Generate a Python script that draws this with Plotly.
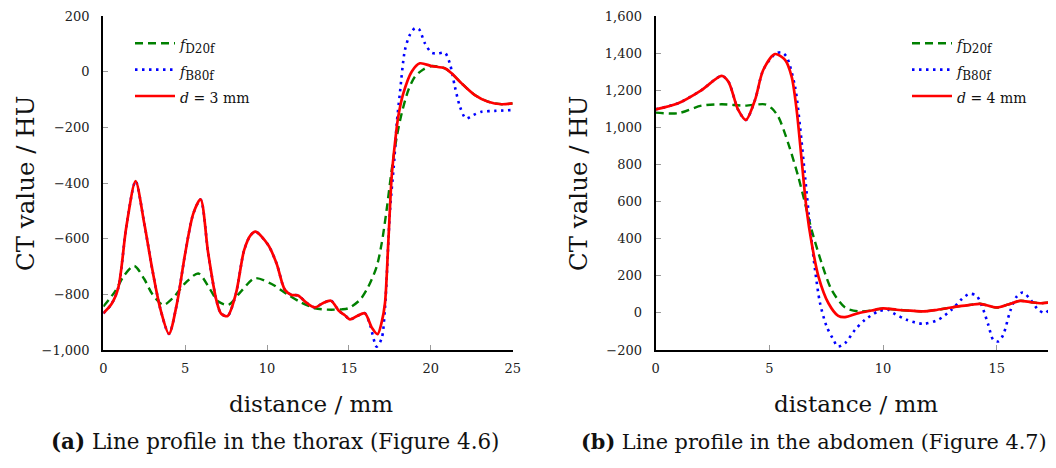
import plotly.graph_objects as go

# ---------------- data: (a) thorax ----------------
thorax_d20f_x = [0, 0.71, 1.3, 1.89, 2.5, 3.0, 3.66, 4.3, 5.0, 5.8, 6.5, 7.0, 7.63, 8.4, 9.26,
                 10.28, 11.29, 12.1, 12.92, 13.7, 14.55, 14.97, 15.67, 16.18, 16.69, 17.0, 17.3,
                 17.61, 17.92, 18.22, 18.63, 19.03, 19.54, 20.05, 20.86, 21.27, 21.88, 22.69,
                 23.5, 24.33, 25]
thorax_d20f_y = [-844, -790, -730, -698, -745, -800, -838, -810, -760, -725, -780, -825, -838, -790,
                 -742, -763, -802, -830, -850, -855, -854, -850, -820, -773, -701, -617, -497,
                 -353, -234, -150, -66, -18, 8, 20, 12, -6, -42, -84, -108, -117, -114]

thorax_b80f_x = [0, 0.5, 0.92, 1.4, 1.97, 2.5, 3.0, 3.5, 4.01, 4.5, 5.0, 5.5, 5.94, 6.4, 6.9, 7.2,
                 7.59, 8.1, 8.6, 9.0, 9.3, 10.07, 10.58, 11.09, 11.5, 11.9, 12.4, 12.92, 13.4,
                 13.9, 14.4, 14.75, 15.06, 15.5, 15.97, 16.29, 16.69, 17.0, 17.2, 17.51, 17.77,
                 17.92, 18.11, 18.42, 18.72, 19.03, 19.27, 19.64, 20.05, 20.45, 20.86, 21.16,
                 21.47, 21.78, 22.14, 22.59, 23.1, 23.91, 24.93]
thorax_b80f_y = [-868, -835, -775, -560, -393, -545, -713, -856, -942, -832, -653, -509, -459,
                 -650, -820, -870, -878, -797, -641, -587, -575, -623, -689, -784, -802, -804,
                 -830, -847, -832, -823, -860, -875, -890, -878, -868, -910, -988, -958, -850,
                 -497, -317, -186, -78, 78, 132, 156, 153, 102, 68, 66, 68, 30, -54, -126, -168,
                 -156, -144, -141, -138]

thorax_d3_x = [0, 0.5, 0.92, 1.4, 1.97, 2.5, 3.0, 3.5, 4.01, 4.5, 5.0, 5.5, 5.94, 6.4, 6.9, 7.2,
               7.59, 8.1, 8.6, 9.0, 9.3, 10.07, 10.58, 11.09, 11.5, 11.9, 12.4, 12.92, 13.4,
               13.9, 14.4, 14.75, 15.06, 15.5, 15.97, 16.4, 16.75, 17.0, 17.2, 17.4, 17.61,
               17.81, 18.01, 18.32, 18.83, 19.33, 20.05, 20.86, 21.27, 21.88, 22.69, 23.5,
               24.33, 25]
thorax_d3_y = [-868, -835, -775, -560, -393, -545, -713, -856, -942, -832, -653, -509, -459,
               -650, -820, -870, -878, -797, -641, -587, -575, -623, -689, -784, -802, -804,
               -830, -847, -832, -823, -860, -875, -890, -878, -868, -920, -943, -900, -832,
               -617, -377, -257, -162, -78, 0, 30, 20, 12, -6, -42, -84, -108, -117, -114]

# ---------------- data: (b) abdomen ----------------
abd_d20f_x = [0, 0.99, 2.02, 2.9, 3.93, 4.81, 5.1, 5.39, 5.83, 6.27, 6.57, 6.86, 7.3, 7.74,
              8.33, 8.92, 9.5, 10.0, 10.6, 11.2, 11.77, 12.3, 12.8, 13.3, 13.83, 14.27, 15.0,
              15.5, 16.03, 16.5, 16.91, 17.3, 17.61]
abd_d20f_y = [1079, 1076, 1117, 1124, 1117, 1124, 1103, 1058, 914, 735, 591, 447, 268, 124,
              29, 8, 13, 24, 17, 12, 8, 15, 25, 35, 43, 49, 29, 45, 65, 58, 52, 56, 61]

abd_b80f_x = [0, 0.99, 2.02, 2.9, 3.2, 3.63, 3.97, 4.37, 4.73, 5.25, 5.54, 5.76, 6.13, 6.35,
              6.57, 6.79, 7.01, 7.23, 7.52, 7.82, 8.01, 8.33, 8.77, 9.21, 9.79, 10.23, 10.45,
              11.04, 11.77, 12.43, 13.02, 13.46, 13.8, 14.12, 14.41, 14.63, 14.85, 15.07,
              15.29, 15.59, 15.88, 16.15, 16.47, 16.83, 17.13, 17.42, 17.61]
abd_b80f_y = [1097, 1130, 1201, 1277, 1246, 1094, 1040, 1148, 1309, 1395, 1404, 1380, 1219,
              1004, 735, 465, 232, 52, -73, -145, -181, -163, -91, -37, 8, 17, -1, -37, -59,
              -37, 17, 74, 103, 92, 17, -64, -145, -154, -118, 8, 88, 110, 74, 17, -1, 35, 61]

abd_d4_x = [0, 0.99, 2.02, 2.9, 3.2, 3.63, 3.97, 4.37, 4.73, 5.25, 5.69, 5.98, 6.2, 6.42,
            6.64, 6.86, 7.16, 7.6, 8.03, 8.33, 8.92, 9.5, 10.0, 10.6, 11.2, 11.77, 12.3,
            12.8, 13.3, 13.83, 14.27, 15.0, 15.5, 16.03, 16.5, 16.91, 17.3, 17.61]
abd_d4_y = [1097, 1130, 1201, 1277, 1246, 1094, 1040, 1148, 1309, 1395, 1363, 1273, 1094, 824,
            555, 376, 196, 52, -16, -23, -1, 13, 24, 17, 12, 8, 15, 25, 35, 43, 49, 29, 45,
            65, 58, 52, 56, 61]

x_ticks_a = [0, 5, 10, 15, 20, 25]
x_ticks_b = [0, 5, 10, 15]

SUBSTYLE = "<span style='font-size:12px'>{}</span>"
names_a = ["<i>f</i><sub>" + SUBSTYLE.format("D20f") + "</sub>",
           "<i>f</i><sub>" + SUBSTYLE.format("B80f") + "</sub>",
           "<i>d</i> = 3 mm"]
names_b = ["<i>f</i><sub>" + SUBSTYLE.format("D20f") + "</sub>",
           "<i>f</i><sub>" + SUBSTYLE.format("B80f") + "</sub>",
           "<i>d</i> = 4 mm"]

GREEN = "#008000"
BLUE = "#0000ff"
RED = "#ff0000"
FONT = "DejaVu Serif"

# The page body has an 8px margin, so the figure is drawn 8px right/down.
OFF = 8
W, H = 1056 - OFF, 468 - OFF


def px(sx):
    return (sx - OFF) / W


def py(sy):
    return 1 - (sy - OFF) / H


fig = go.Figure()


def add(x, y, name, color, dash, width, xa, ya, leg):
    fig.add_trace(go.Scatter(
        x=x, y=y, name="<span style='font-size:14px'>" + name + "</span>", mode="lines",
        line=dict(color=color, dash=dash, width=width, shape="spline", smoothing=0.8),
        xaxis=xa, yaxis=ya, legend=leg, cliponaxis=True))


add(thorax_d20f_x, thorax_d20f_y, names_a[0], GREEN, "8px,5px", 2.4, "x", "y", "legend")
add(thorax_b80f_x, thorax_b80f_y, names_a[1], BLUE, "2.5px,4.5px", 2.6, "x", "y", "legend")
add(thorax_d3_x, thorax_d3_y, names_a[2], RED, "solid", 2.7, "x", "y", "legend")

add(abd_d20f_x, abd_d20f_y, names_b[0], GREEN, "8px,5px", 2.4, "x2", "y2", "legend2")
add(abd_b80f_x, abd_b80f_y, names_b[1], BLUE, "2.5px,4.5px", 2.6, "x2", "y2", "legend2")
add(abd_d4_x, abd_d4_y, names_b[2], RED, "solid", 2.7, "x2", "y2", "legend2")

axis_common = dict(
    showline=True, linecolor="black", linewidth=2.2, mirror=False,
    ticks="inside", ticklen=5, tickwidth=1, tickcolor="#9a9a9a",
    showgrid=False, zeroline=False, automargin=False,
    tickfont=dict(family=FONT, size=13, color="#222"),
)

fig.update_layout(
    template="none",
    width=W, height=H,
    margin=dict(l=0, r=0, t=0, b=0, pad=0, autoexpand=False),
    paper_bgcolor="white", plot_bgcolor="white",
    separators=".,",
    showlegend=True,
    xaxis=dict(domain=[px(103.3), px(512.7)], range=[0, 25], tickvals=x_ticks_a,
               anchor="y", ticklabelstandoff=5, **axis_common),
    yaxis=dict(domain=[py(350), py(16)], range=[-1000, 200], dtick=200, tickformat=",",
               anchor="x", ticklabelstandoff=9, **axis_common),
    xaxis2=dict(domain=[px(655.7), 1.0], range=[0, 17.61], tickvals=x_ticks_b,
                anchor="y2", ticklabelstandoff=5, **axis_common),
    yaxis2=dict(domain=[py(350), py(16)], range=[-200, 1600], dtick=200, tickformat=",",
                anchor="x2", ticklabelstandoff=9, **axis_common),
    legend=dict(x=px(130), y=py(25), xanchor="left", yanchor="top",
                bgcolor="rgba(0,0,0,0)", font=dict(family=FONT, size=18, color="#111"),
                tracegroupgap=0, itemwidth=40),
    legend2=dict(x=px(907), y=py(25), xanchor="left", yanchor="top",
                 bgcolor="rgba(0,0,0,0)", font=dict(family=FONT, size=18, color="#111"),
                 tracegroupgap=0, itemwidth=40),
)

ann_font_ytitle = dict(family=FONT, size=24.5, color="#111")
ann_font_xtitle = dict(family=FONT, size=23, color="#111")
ann_font_cap_a = dict(family=FONT, size=21.4, color="#111")
ann_font_cap_b = dict(family=FONT, size=20.8, color="#111")

annotations = [
    dict(text="CT value / HU", x=px(25), y=py(184), textangle=-90, font=ann_font_ytitle),
    dict(text="CT value / HU", x=px(578), y=py(184), textangle=-90, font=ann_font_ytitle),
    dict(text="distance / mm", x=px(311), y=py(404), font=ann_font_xtitle),
    dict(text="distance / mm", x=px(856), y=py(404), font=ann_font_xtitle),
    dict(text="<b>(a)</b> Line profile in the thorax (Figure 4.6)", x=px(275), y=py(441),
         font=ann_font_cap_a),
    dict(text="<b>(b)</b> Line profile in the abdomen (Figure 4.7)", x=px(814), y=py(441),
         font=ann_font_cap_b),
]
for a in annotations:
    a.update(xref="paper", yref="paper", showarrow=False, xanchor="center", yanchor="middle")
fig.update_layout(annotations=annotations)

fig.write_html("out.html")
